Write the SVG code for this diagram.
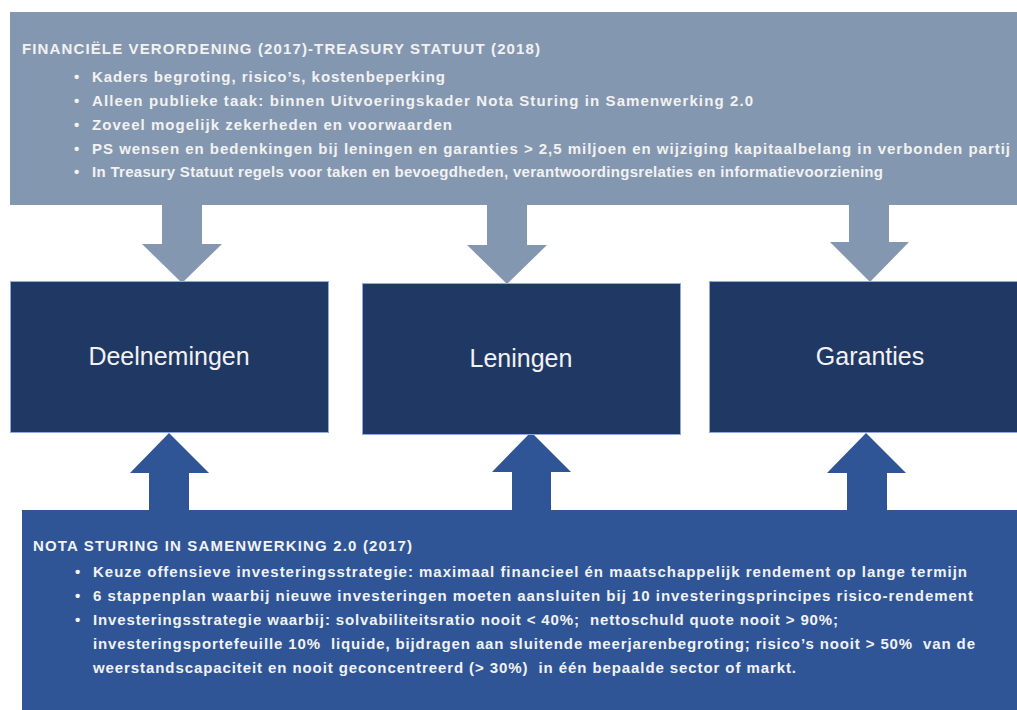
<svg xmlns="http://www.w3.org/2000/svg" width="1017" height="710" viewBox="0 0 1017 710">
<style>
.top{fill:#8497B0}
.bot{fill:#2F5597}
.box{fill:#203864;stroke:#8FAADC;stroke-width:1}
.lbl{font-family:"Liberation Sans",Arial,sans-serif;font-size:25px;fill:#F2F2F2;text-anchor:middle}
.t{font-family:"Liberation Sans",Arial,sans-serif;font-size:15px;font-weight:bold;fill:#F2F2F2;white-space:pre}
</style>
<rect width="1017" height="710" fill="#FFFFFF"/>
<g id="connectors">
<polygon class="top" points="162,204 202,204 202,244 222,244 182,283 142,244 162,244"/>
<polygon class="top" points="487,204 527,204 527,245 547,245 507,284 467,245 487,245"/>
<polygon class="top" points="849,204 889,204 889,242 909,242 870,282 830,242 849,242"/>
<polygon class="bot" points="169,433 209,473 189,473 189,511 149,511 149,473 130,473"/>
<polygon class="bot" points="531,432 571,472 551,472 551,511 512,511 512,472 492,472"/>
<polygon class="bot" points="866,433 906,473 887,473 887,511 847,511 847,473 827,473"/>
</g>
<g id="treasury">
<rect class="top" x="10" y="12" width="1007" height="193"/>
<text class="t" x="22" y="54" textLength="518" lengthAdjust="spacing">FINANCIËLE VERORDENING (2017)-TREASURY STATUUT (2018)</text>
<text class="t" x="74" y="82">•</text><text class="t" x="92" y="82" textLength="353" lengthAdjust="spacing">Kaders begroting, risico’s, kostenbeperking</text>
<text class="t" x="74" y="106">•</text><text class="t" x="92" y="106" textLength="661" lengthAdjust="spacing">Alleen publieke taak: binnen Uitvoeringskader Nota Sturing in Samenwerking 2.0</text>
<text class="t" x="74" y="130">•</text><text class="t" x="92" y="130" textLength="360" lengthAdjust="spacing">Zoveel mogelijk zekerheden en voorwaarden</text>
<text class="t" x="74" y="154">•</text><text class="t" x="92" y="154" textLength="918" lengthAdjust="spacing">PS wensen en bedenkingen bij leningen en garanties &gt; 2,5 miljoen en wijziging kapitaalbelang in verbonden partij</text>
<text class="t" x="74" y="177">•</text><text class="t" x="92" y="177" textLength="791" lengthAdjust="spacing">In Treasury Statuut regels voor taken en bevoegdheden, verantwoordingsrelaties en informatievoorziening</text>
</g>
<g id="deelnemingen">
<rect class="box" x="10.5" y="281.5" width="318" height="151"/>
<text class="lbl" x="169" y="365">Deelnemingen</text>
</g>
<g id="leningen">
<rect class="box" x="362.5" y="283.5" width="318" height="151"/>
<text class="lbl" x="521" y="367">Leningen</text>
</g>
<g id="garanties">
<rect class="box" x="709.5" y="281.5" width="310" height="151"/>
<text class="lbl" x="870" y="365">Garanties</text>
</g>
<g id="nota">
<rect class="bot" x="22" y="510" width="995" height="200"/>
<text class="t" x="33" y="551" textLength="379" lengthAdjust="spacing">NOTA STURING IN SAMENWERKING 2.0 (2017)</text>
<text class="t" x="75" y="577">•</text><text class="t" x="93" y="577" textLength="874" lengthAdjust="spacing">Keuze offensieve investeringsstrategie: maximaal financieel én maatschappelijk rendement op lange termijn</text>
<text class="t" x="75" y="601">•</text><text class="t" x="93" y="601" textLength="880" lengthAdjust="spacing">6 stappenplan waarbij nieuwe investeringen moeten aansluiten bij 10 investeringsprincipes risico-rendement</text>
<text class="t" x="75" y="625">•</text><text class="t" x="93" y="625" textLength="745" lengthAdjust="spacing">Investeringsstrategie waarbij: solvabiliteitsratio nooit &lt; 40%;  nettoschuld quote nooit &gt; 90%;</text>
<text class="t" x="93" y="649" textLength="882" lengthAdjust="spacing">investeringsportefeuille 10%  liquide, bijdragen aan sluitende meerjarenbegroting; risico’s nooit &gt; 50%  van de</text>
<text class="t" x="93" y="673" textLength="703" lengthAdjust="spacing">weerstandscapaciteit en nooit geconcentreerd (&gt; 30%)  in één bepaalde sector of markt.</text>
</g>
</svg>
